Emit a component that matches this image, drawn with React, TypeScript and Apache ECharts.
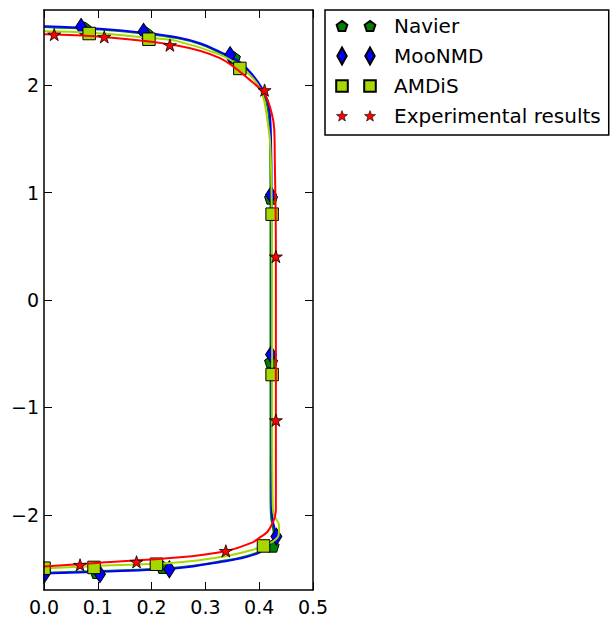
import React, { useEffect, useRef } from "react";
import * as echarts from "echarts";

// ---------- data ----------
const xTicks = [0, 0.1, 0.2, 0.3, 0.4, 0.5];
const yTicks = [-2, -1, 0, 1, 2];
const seriesNames = ["Navier", "MooNMD", "AMDiS", "Experimental results"];

const navierCurve: [number, number][] = [
  [0, 2.541], [0.05, 2.532], [0.104, 2.518], [0.184, 2.481], [0.247, 2.439],
  [0.29, 2.383], [0.327, 2.302], [0.364, 2.207], [0.388, 2.086], [0.404, 1.965],
  [0.413, 1.853], [0.418, 1.714], [0.42, 1.49], [0.421, 1.0], [0.421, 0],
  [0.421, -1.0], [0.421, -1.8], [0.422, -2.014], [0.426, -2.135], [0.428, -2.21],
  [0.42, -2.262], [0.399, -2.345], [0.372, -2.39], [0.34, -2.423], [0.247, -2.49],
  [0.104, -2.523], [0, -2.54],
];
const mooCurve: [number, number][] = [
  [0, 2.549], [0.05, 2.54], [0.104, 2.526], [0.184, 2.489], [0.247, 2.447],
  [0.29, 2.391], [0.327, 2.31], [0.364, 2.215], [0.388, 2.094], [0.405, 1.973],
  [0.415, 1.861], [0.42, 1.722], [0.422, 1.49], [0.423, 1.0], [0.423, 0],
  [0.423, -1.0], [0.423, -1.8], [0.424, -2.014], [0.429, -2.135], [0.432, -2.2],
  [0.424, -2.256], [0.401, -2.349], [0.374, -2.395], [0.34, -2.429], [0.247, -2.497],
  [0.104, -2.53], [0, -2.546],
];
const amdisCurve: [number, number][] = [
  [0, 2.503], [0.084, 2.49], [0.195, 2.44], [0.247, 2.41], [0.327, 2.284],
  [0.364, 2.178], [0.388, 2.066], [0.401, 1.973], [0.409, 1.861], [0.413, 1.749],
  [0.416, 1.647], [0.42, 1.49], [0.423, 1.0], [0.424, 0], [0.424, -1.0],
  [0.425, -1.856], [0.427, -1.995], [0.437, -2.1], [0.436, -2.19], [0.425, -2.25],
  [0.408, -2.29], [0.385, -2.33], [0.34, -2.383], [0.247, -2.444], [0.104, -2.474],
  [0, -2.5],
];
const expCurve: [number, number][] = [
  [0, 2.475], [0.104, 2.452], [0.247, 2.37], [0.327, 2.252], [0.383, 2.047],
  [0.411, 1.908], [0.424, 1.722], [0.428, 1.583], [0.429, 1.304], [0.431, 0.5],
  [0.431, 0], [0.431, -1.0], [0.431, -1.856], [0.431, -1.95], [0.429, -2.02],
  [0.425, -2.075], [0.415, -2.16], [0.4, -2.215], [0.388, -2.256], [0.34, -2.336],
  [0.247, -2.398], [0.104, -2.446], [0, -2.481],
];

const navierMarkers: [number, number][] = [
  [0.076, 2.53], [0.19, 2.485], [0.353, 2.255], [0.422, 0.95], [0.422, -0.575],
  [0.425, -2.29], [0.221, -2.488], [0.098, -2.535], [0, -2.52],
];
const mooMarkers: [number, number][] = [
  [0.069, 2.543], [0.185, 2.497], [0.346, 2.28], [0.422, 0.979], [0.422, -0.508],
  [0.432, -2.203], [0.233, -2.507], [0.104, -2.553], [0, -2.56],
];
const amdisMarkers: [number, number][] = [
  [0.084, 2.481], [0.195, 2.428], [0.364, 2.156], [0.424, 0.799], [0.424, -0.694],
  [0.408, -2.29], [0.209, -2.46], [0.093, -2.49], [0, -2.497],
];
const expMarkers: [number, number][] = [
  [0.019, 2.472], [0.112, 2.45], [0.234, 2.373], [0.41, 1.954], [0.431, 0.405],
  [0.431, -1.119], [0.338, -2.336], [0.172, -2.438], [0.067, -2.466],
];

// ---------- styling helpers ----------
const FONT = "DejaVu Sans";
const colors = ["#008000", "#0000ff", "#a6d700", "#ff0000"];

function starPts(cx: number, cy: number, R: number, r: number) {
  const pts: number[][] = [];
  for (let k = 0; k < 10; k++) {
    const a = ((-90 + k * 36) * Math.PI) / 180;
    const rad = k % 2 === 0 ? R : r;
    pts.push([cx + rad * Math.cos(a), cy + rad * Math.sin(a)]);
  }
  return pts;
}
function pentPts(cx: number, cy: number, R: number) {
  const pts: number[][] = [];
  for (let k = 0; k < 5; k++) {
    const a = ((-90 + k * 72) * Math.PI) / 180;
    pts.push([cx + R * Math.cos(a), cy + R * Math.sin(a)]);
  }
  return pts;
}
function diamondPts(cx: number, cy: number, hw: number, hh: number) {
  return [[cx, cy - hh], [cx + hw, cy], [cx, cy + hh], [cx - hw, cy]];
}
function squarePts(cx: number, cy: number, h: number) {
  return [[cx - h, cy - h], [cx + h, cy - h], [cx + h, cy + h], [cx - h, cy + h]];
}
function poly(pts: number[][]) {
  return "M" + pts.map((p) => p[0].toFixed(2) + " " + p[1].toFixed(2)).join(" L") + " Z";
}

const LW = 53;
const LH = 18;
const c1 = 6;
const c2 = 34;
function legendIcon(shape: (cx: number) => number[][]) {
  return "path://M0 0 M" + LW + " " + LH + " " + poly(shape(c1)) + " " + poly(shape(c2));
}

const legendIcons = [
  legendIcon((cx) => pentPts(cx, 9.5, 5.6)),
  legendIcon((cx) => diamondPts(cx, 9, 4.7, 8.5)),
  legendIcon((cx) => squarePts(cx, 9, 5.8)),
  legendIcon((cx) => starPts(cx, 9.4, 5.8, 2.4)),
];

const plotSymbols = [
  "path://" + poly(pentPts(0, 0, 10)),
  "diamond",
  "rect",
  "path://" + poly(starPts(0, 0, 10, 3.82)),
];
const plotSizes: any[] = [13, [11, 17], 12.5, 13];

export default function App() {
  const ref = useRef<HTMLDivElement>(null);
  useEffect(() => {
    if (!ref.current) return;
    const chart = echarts.init(ref.current, undefined, { renderer: "svg" });
    const curves = [navierCurve, mooCurve, amdisCurve, expCurve];
    const markers = [navierMarkers, mooMarkers, amdisMarkers, expMarkers];
    const series: any[] = [];
    seriesNames.forEach((name, i) => {
      series.push({
        name: name + " curve",
        type: "line",
        data: curves[i],
        showSymbol: false,
        smooth: 0.35,
        lineStyle: { color: colors[i], width: 2 },
        z: 2 + i * 2,
        silent: true,
      });
      series.push({
        name,
        type: "scatter",
        data: markers[i],
        symbol: plotSymbols[i],
        symbolSize: plotSizes[i],
        symbolKeepAspect: true,
        itemStyle: { color: colors[i], borderColor: "#000", borderWidth: i === 3 ? 0.8 : 1, opacity: 1 },
        z: 3 + i * 2,
        silent: true,
      });
    });

    const axisLineStyle = { color: "#000", width: 1.5 };
    chart.setOption({
      animation: false,
      grid: { left: 44, right: 297, top: 10, bottom: 30, outerBoundsMode: "none" },
      xAxis: [
        {
          type: "value", min: 0, max: 0.5, interval: 0.1, position: "bottom", z: 20,
          axisLine: { show: true, onZero: false, lineStyle: axisLineStyle },
          axisTick: { show: true, inside: true, length: 8, lineStyle: { color: "#000", width: 1 } },
          axisLabel: {
            show: true, margin: 7, color: "#000", fontSize: 19, fontFamily: FONT,
            formatter: (v: number) => v.toFixed(1),
            customValues: xTicks,
          },
          splitLine: { show: false },
        },
        {
          type: "value", min: 0, max: 0.5, interval: 0.1, position: "top", z: 20,
          axisLine: { show: true, onZero: false, lineStyle: axisLineStyle },
          axisTick: { show: true, inside: true, length: 8, lineStyle: { color: "#000", width: 1 } },
          axisLabel: { show: false },
          splitLine: { show: false },
        },
      ],
      yAxis: [
        {
          type: "value", min: -2.7, max: 2.7, position: "left", z: 20,
          axisLine: { show: true, onZero: false, lineStyle: axisLineStyle },
          axisTick: { show: true, inside: true, length: 8, customValues: yTicks, lineStyle: { color: "#000", width: 1 } },
          axisLabel: {
            show: true, margin: 5, color: "#000", fontSize: 19, fontFamily: FONT,
            customValues: yTicks,
            formatter: (v: number) => String(Math.round(v)).replace("-", "\u2212"),
          },
          splitLine: { show: false },
        },
        {
          type: "value", min: -2.7, max: 2.7, position: "right", z: 20,
          axisLine: { show: true, onZero: false, lineStyle: axisLineStyle },
          axisTick: { show: true, inside: true, length: 8, customValues: yTicks, lineStyle: { color: "#000", width: 1 } },
          axisLabel: { show: false },
          splitLine: { show: false },
        },
      ],
      legend: {
        orient: "vertical",
        left: 325,
        top: 10,
        padding: [6, 8, 9, 10],
        itemGap: 10,
        itemWidth: LW,
        itemHeight: LH,
        borderColor: "#000",
        borderWidth: 1.5,
        backgroundColor: "#fff",
        selectedMode: false,
        textStyle: { color: "#000", fontSize: 20, fontFamily: FONT },
        data: seriesNames.map((n, i) => ({
          name: n,
          icon: legendIcons[i],
          itemStyle: i === 3 ? { color: "#ff0000", borderColor: "#000", borderWidth: 0.6 } : undefined,
        })),
      },
      graphic: [
        {
          type: "rect",
          z: 15,
          silent: true,
          shape: { x: 30, y: 530, width: 13.2, height: 62 },
          style: { fill: "#fff" },
        },
      ],
      series,
    });
    return () => chart.dispose();
  }, []);
  return (
    <div
      ref={ref}
      style={{ position: "absolute", left: 0, top: 0, width: 610, height: 620, background: "#fff" }}
    />
  );
}
